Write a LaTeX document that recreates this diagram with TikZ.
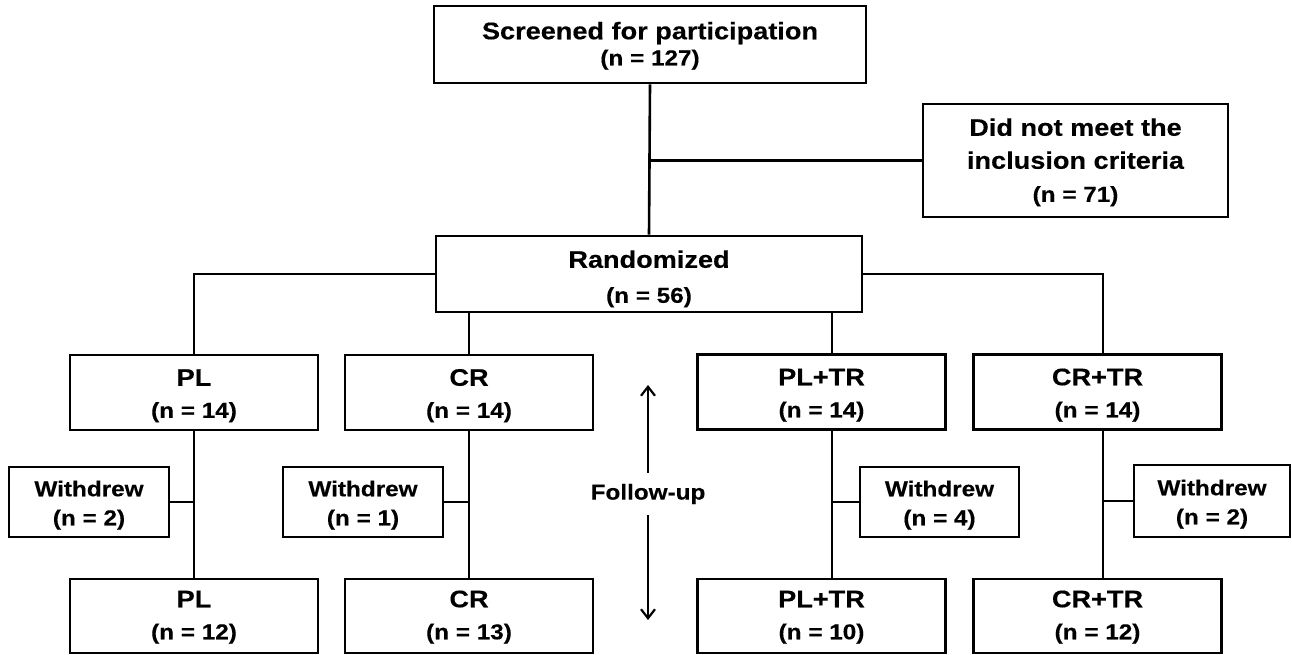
\documentclass[tikz,border=0pt]{standalone}
\usepackage{fontspec}
\setmainfont{Liberation Sans}[FakeStretch=1.13, BoldFeatures={FakeBold=0.3}]
\usetikzlibrary{arrows.meta}
\newcommand\bigline[1]{{\fontsize{24}{32}\selectfont #1}}
\newcommand\dnstrut[1]{\rule{0pt}{#1pt}}
\tikzset{
  box/.style={draw, line width=2.6pt, inner sep=0pt, align=center},
  big/.style={box, minimum width=248, minimum height=75, font=\bfseries\fontsize{21.5}{32}\selectfont},
  wd/.style={box, minimum width=160, minimum height=70, font=\bfseries\fontsize{21.5}{29}\selectfont},
  conn/.style={line width=2.6pt},
  arr/.style={line width=2.2pt, -{Straight Barb[length=9pt,width=14pt,line width=2.2pt]}}
}
\begin{document}
\begin{tikzpicture}[x=1pt,y=-1pt]
\useasboundingbox (0,0) rectangle (1292,655);
\coordinate (v3) at (832,0);
\coordinate (v4) at (1103,0);
% top
\node[box, minimum width=432, minimum height=77, font=\bfseries\fontsize{21.5}{26}\selectfont] (scr) at (650,44.5) {\bigline{\dnstrut{20}Screened for participation}\\(n = 127)};
\node[box, minimum width=305, minimum height=113, font=\bfseries\fontsize{21.5}{33}\selectfont] (dnm) at (1075.5,160.5) {\bigline{\dnstrut{21}Did not meet the}\\\bigline{inclusion criteria}\\(n = 71)};
\node[box, minimum width=426, minimum height=76, font=\bfseries\fontsize{21.5}{35}\selectfont] (rand) at (649,274) {\bigline{\dnstrut{27}Randomized}\\(n = 56)};
% groups
\node[big] (pl) at (194,392.5) {\bigline{\dnstrut{23}PL}\\(n = 14)};
\node[big] (cr) at (469,392.5) {\bigline{\dnstrut{23}CR}\\(n = 14)};
\node[big] (pltr) at (821.5,392) {\bigline{\dnstrut{23}PL+TR}\\(n = 14)};
\node[big] (crtr) at (1097.5,392) {\bigline{\dnstrut{23}CR+TR}\\(n = 14)};
% withdrew
\node[wd] (w1) at (89,502) {\dnstrut{22}Withdrew\\(n = 2)};
\node[wd] (w2) at (363,502) {\dnstrut{22}Withdrew\\(n = 1)};
\node[wd, minimum width=159] (w3) at (939.5,502) {\dnstrut{22}Withdrew\\(n = 4)};
\node[wd, minimum width=156, minimum height=72] (w4) at (1212,501) {\dnstrut{22}Withdrew\\(n = 2)};
% bottom
\node[big, minimum height=74] (pl2) at (194,616) {\bigline{\dnstrut{19}PL}\\(n = 12)};
\node[big, minimum height=74] (cr2) at (469,616) {\bigline{\dnstrut{19}CR}\\(n = 13)};
\node[big, minimum height=74] (pltr2) at (821.5,616) {\bigline{\dnstrut{19}PL+TR}\\(n = 10)};
\node[big, minimum height=74] (crtr2) at (1097.5,616) {\bigline{\dnstrut{19}CR+TR}\\(n = 12)};
% follow-up
\node[font=\bfseries\fontsize{21.5}{25}\selectfont, inner sep=0pt, minimum height=42] (fu) at (648,494) {Follow-up};
\coordinate (fua) at (648,385);
\coordinate (fub) at (648,620);
% connectors
\draw[conn] (scr.south) -- (rand.north);
\draw[conn] (scr.south |- dnm.west) -- (dnm.west);
\draw[conn] (rand.west) -| (pl.north);
\draw[conn] (rand.east) -| (v4 |- crtr.north);
\draw[conn] (rand.south -| cr.north) -- (cr.north);
\draw[conn] (rand.south -| v3) -- (pltr.north -| v3);
\draw[conn] (pl.south) -- (pl2.north);
\draw[conn] (w1.east) -- (w1.east -| pl.south);
\draw[conn] (cr.south) -- (cr2.north);
\draw[conn] (w2.east) -- (w2.east -| cr.south);
\draw[conn] (pltr.south -| v3) -- (pltr2.north -| v3);
\draw[conn] (w3.west) -- (w3.west -| v3);
\draw[conn] (crtr.south -| v4) -- (crtr2.north -| v4);
\draw[conn] (w4.west) -- (w4.west -| v4);
\draw[arr] (fu.north) -- (fua);
\draw[arr] (fu.south) -- (fub);
\end{tikzpicture}
\end{document}
